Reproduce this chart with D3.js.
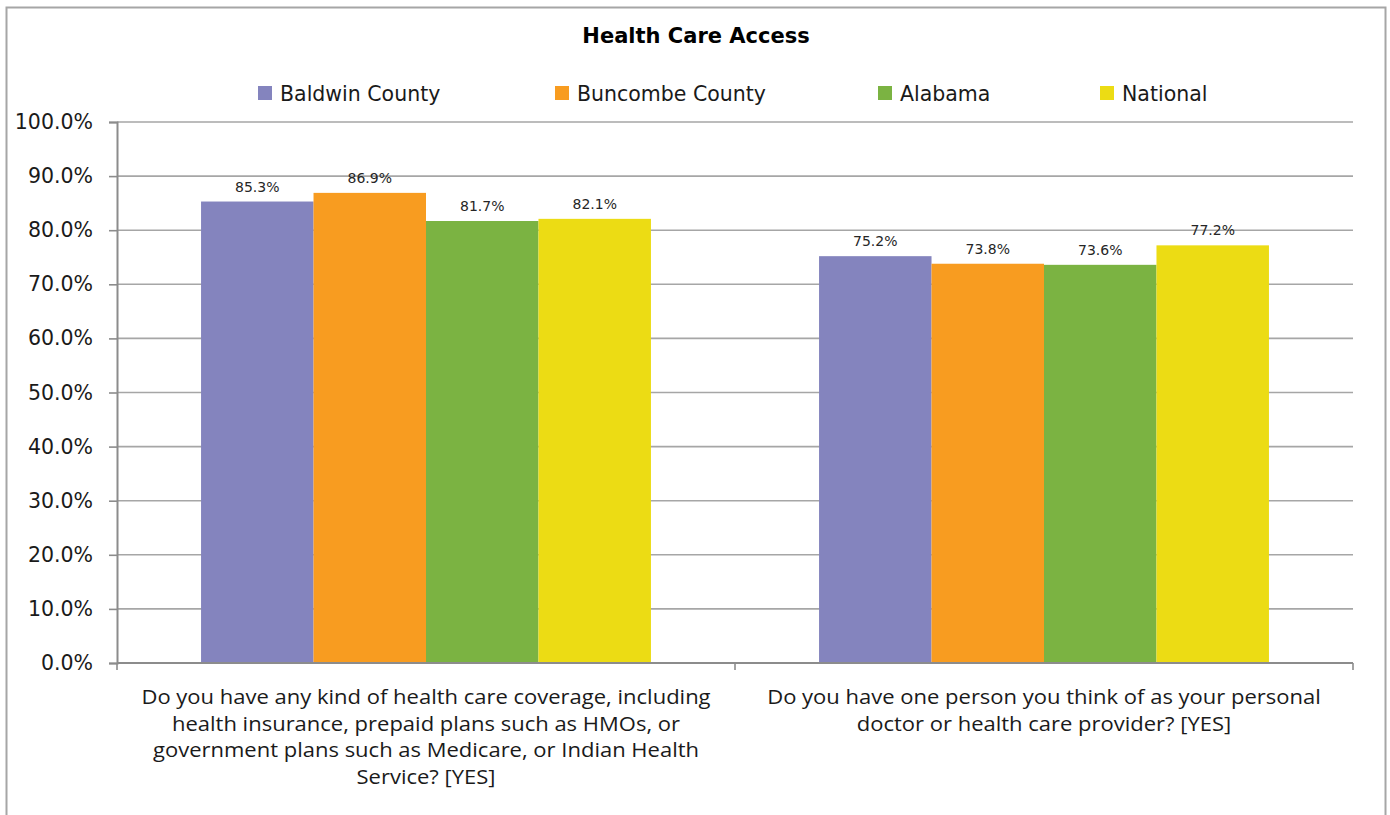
<!DOCTYPE html>
<html><head><meta charset="utf-8">
<script src="https://cdn.jsdelivr.net/npm/d3@7"></script>
<style>html,body{margin:0;padding:0;background:#fff;} svg{display:block;}</style>
</head><body><svg id="c" width="1390" height="815"></svg>
<script>
const title = "Health Care Access";
const categories = [
  ["Do you have any kind of health care coverage, including","health insurance, prepaid plans such as HMOs, or","government plans such as Medicare, or Indian Health","Service? [YES]"],
  ["Do you have one person you think of as your personal","doctor or health care provider? [YES]"]
];
const seriesNames = ["Baldwin County","Buncombe County","Alabama","National"];
const seriesColors = ["#8484be","#f89c20","#7bb342","#ecdc14"];
const baldwin = [85.3, 75.2];
const buncombe = [86.9, 73.8];
const alabama = [81.7, 73.6];
const national = [82.1, 77.2];
const yTicks = [0,10,20,30,40,50,60,70,80,90,100];

const seriesValues = [baldwin, buncombe, alabama, national];
const FONT = "'DejaVu Sans', Verdana, sans-serif";
const CATFONT = "'Open Sans', 'Noto Sans', sans-serif";
const svg = d3.select("#c");
svg.append("rect").attr("x",6.5).attr("y",7.5).attr("width",1379).attr("height",820)
  .attr("fill","#fff").attr("stroke","#a6a6a6").attr("stroke-width",2);

const L=117, R=1353, T=122, B=663;
const catIdx = categories.map((d,i)=>i);
const x0 = d3.scaleBand().domain(catIdx).range([L,R]).paddingInner(0.272).paddingOuter(0.136);
const x1 = d3.scaleBand().domain(d3.range(seriesNames.length)).range([0,x0.bandwidth()]);
const y = d3.scaleLinear().domain([0,100]).range([B,T]);

// gridlines
svg.append("g").selectAll("line").data(yTicks.filter(t=>t>0)).join("line")
  .attr("x1",L).attr("x2",R).attr("y1",d=>y(d)).attr("y2",d=>y(d))
  .attr("stroke","#a6a6a6").attr("stroke-width",1.6);

// y axis
const yAxis = d3.axisLeft(y).tickValues(yTicks).tickFormat(d=>d.toFixed(1)+"%").tickSize(8).tickPadding(16);
const gy = svg.append("g").attr("transform",`translate(${L},0)`).call(yAxis);
gy.select(".domain").attr("stroke","#8c8c8c").attr("stroke-width",2);
gy.selectAll(".tick line").attr("stroke","#8c8c8c").attr("stroke-width",1.6);
gy.selectAll(".tick text").attr("font-family",FONT).attr("font-size",20.5).attr("fill","#1a1a1a");

// bars
const groups = svg.append("g").selectAll("g").data(catIdx).join("g")
  .attr("transform",d=>`translate(${x0(d)},0)`);
groups.selectAll("rect").data(c=>seriesValues.map((s,si)=>({si,v:s[c]}))).join("rect")
  .attr("x",d=>x1(d.si)).attr("width",x1.bandwidth())
  .attr("y",d=>y(d.v)).attr("height",d=>B-y(d.v))
  .attr("fill",d=>seriesColors[d.si]);
groups.selectAll("text").data(c=>seriesValues.map((s,si)=>({si,v:s[c]}))).join("text")
  .attr("x",d=>x1(d.si)+x1.bandwidth()/2).attr("y",d=>y(d.v)-10)
  .attr("text-anchor","middle").attr("font-family",FONT).attr("font-size",14).attr("fill","#262626")
  .text(d=>d.v.toFixed(1)+"%");

// x axis
const xAxisG = svg.append("g");
xAxisG.append("line").attr("x1",L).attr("x2",R).attr("y1",B).attr("y2",B).attr("stroke","#8c8c8c").attr("stroke-width",2);
const bounds = [L, ...catIdx.slice(1).map(i=>x0(i)-x0.step()*x0.paddingInner()/2), R];
xAxisG.selectAll("line.t").data(bounds).join("line").attr("class","t")
  .attr("x1",d=>d).attr("x2",d=>d).attr("y1",B).attr("y2",B+7).attr("stroke","#8c8c8c").attr("stroke-width",1.6);

// category labels
catIdx.forEach(i=>{
  const cx = x0(i)+x0.bandwidth()/2;
  const t = svg.append("text").attr("transform",`translate(${cx},0) scale(1.1,1)`)
    .attr("text-anchor","middle").attr("font-family",CATFONT).attr("font-size",20).attr("fill","#1a1a1a");
  categories[i].forEach((line,li)=>{
    t.append("tspan").attr("x",0).attr("y",704+li*26.6).text(line);
  });
});

// title
svg.append("text").attr("x",696).attr("y",43).attr("text-anchor","middle")
  .attr("font-family",FONT).attr("font-weight","bold").attr("font-size",21).attr("fill","#000").text(title);

// legend
const legX = [258, 555, 878, 1100];
const lg = svg.append("g").selectAll("g").data(seriesNames).join("g")
  .attr("transform",(d,i)=>`translate(${legX[i]},86)`);
lg.append("rect").attr("width",14).attr("height",14).attr("fill",(d,i)=>seriesColors[i]);
lg.append("text").attr("x",22).attr("y",14.5).attr("font-family",FONT).attr("font-size",20.5).attr("fill","#1a1a1a").text(d=>d);
</script></body></html>
